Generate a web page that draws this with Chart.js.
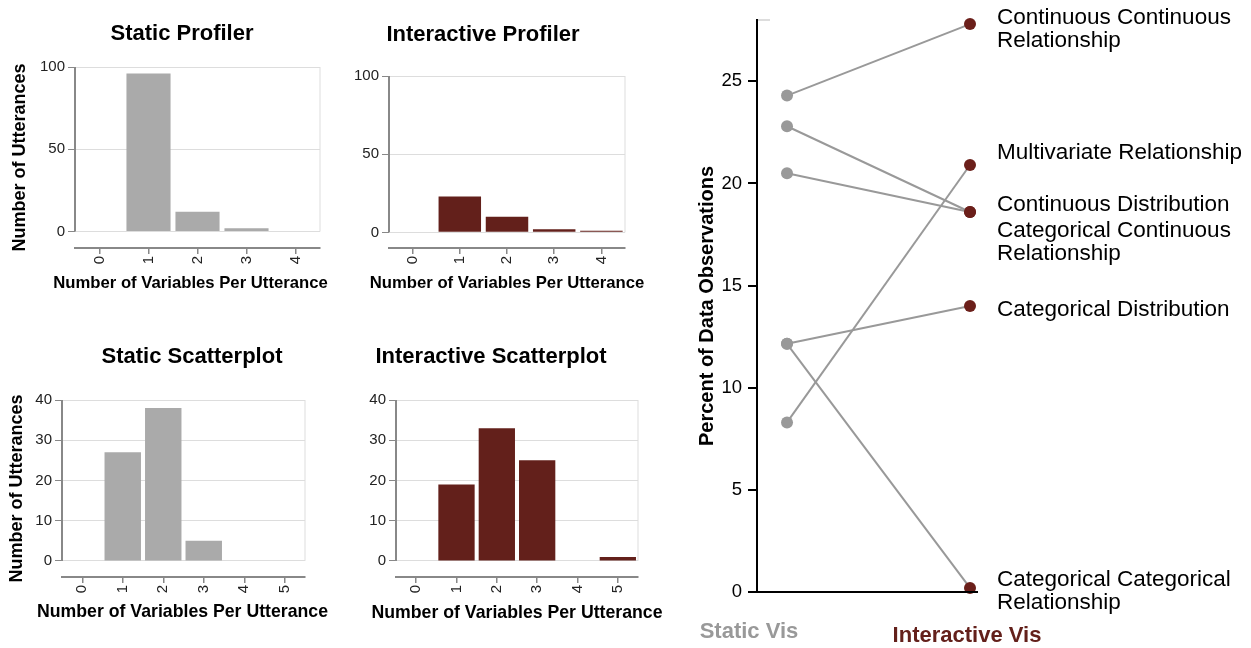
<!DOCTYPE html>
<html>
<head>
<meta charset="utf-8">
<script src="https://cdn.jsdelivr.net/npm/chart.js@4.4.1/dist/chart.umd.min.js"></script>
<style>
  html, body { margin: 0; padding: 0; background: #fff; }
  body { width: 1251px; height: 648px; position: relative; overflow: hidden; }
  .box { position: absolute; }
</style>
</head>
<body>
<div class="box" style="left:0;top:0"><canvas id="staticProfiler" width="335" height="300"></canvas></div>
<div class="box" style="left:335px;top:0"><canvas id="interactiveProfiler" width="320" height="300"></canvas></div>
<div class="box" style="left:0;top:320px"><canvas id="staticScatter" width="340" height="310"></canvas></div>
<div class="box" style="left:340px;top:320px"><canvas id="interactiveScatter" width="330" height="310"></canvas></div>
<div class="box" style="left:690px;top:0"><canvas id="slope" width="561" height="648"></canvas></div>
<script>
// bins (number of variables per utterance)
const profilerBins = ['0', '1', '2', '3', '4'];
const scatterBins = ['0', '1', '2', '3', '4', '5'];

// number of utterances per bin
const staticProfiler = [0, 96, 12, 2, 0];
const interactiveProfiler = [0, 23, 10, 2, 1];
const staticScatter = [0, 27, 38, 5, 0, 0];
const interactiveScatter = [0, 19, 33, 25, 0, 1];

const profilerTicks = [0, 50, 100];
const scatterTicks = [0, 10, 20, 30, 40];

// slope chart: percent of data observations
const slopeCategories = [
    'Continuous Continuous\nRelationship',
    'Multivariate Relationship',
    'Continuous Distribution',
    'Categorical Continuous\nRelationship',
    'Categorical Distribution',
    'Categorical Categorical\nRelationship'
];
const staticPct = [24.3, 8.3, 22.8, 20.5, 12.15, 12.15];
const interactivePct = [27.8, 20.9, 18.6, 18.6, 14.0, 0.2];
const slopeTicks = [0, 5, 10, 15, 20, 25];
const slopeGroups = ['Static Vis', 'Interactive Vis'];

const FONT = "'Liberation Sans', Arial, Helvetica, sans-serif";
const GRAY = '#aaaaaa';
const RED = '#63201b';

Chart.defaults.font.family = FONT;
Chart.defaults.color = '#222';

// left axis line (only from top tick to 0), light right frame, panel title, x title
const framePlugin = {
    id: 'frame',
    beforeDatasetsDraw(chart, args, opts) {
        const { ctx, chartArea: a, scales: { y } } = chart;
        const top = y.getPixelForValue(y.max);
        const zero = y.getPixelForValue(0);
        ctx.save();
        ctx.strokeStyle = '#dddddd';
        ctx.lineWidth = 1;
        ctx.beginPath();
        ctx.moveTo(a.right, top);
        ctx.lineTo(a.right, zero);
        ctx.stroke();
        ctx.strokeStyle = '#888';
        ctx.lineWidth = 2;
        ctx.beginPath();
        ctx.moveTo(a.left, top);
        ctx.lineTo(a.left, zero);
        ctx.stroke();
        ctx.fillStyle = '#000';
        ctx.textAlign = 'center';
        ctx.textBaseline = 'middle';
        ctx.font = 'bold 22px ' + FONT;
        ctx.fillText(opts.text, opts.x, opts.y);
        ctx.font = 'bold ' + opts.xTitleSize + 'px ' + FONT;
        ctx.fillText(opts.xTitle, (a.left + a.right) / 2 + opts.xTitleDx, opts.xTitleY);
        ctx.restore();
    }
};

function barChart(id, title, bins, values, color, ticks, yTitle, L) {
    const max = ticks[ticks.length - 1];
    new Chart(document.getElementById(id), {
        type: 'bar',
        data: {
            labels: bins,
            datasets: [{
                data: values,
                backgroundColor: color,
                borderWidth: 0,
                barPercentage: 0.9,
                categoryPercentage: 1
            }]
        },
        plugins: [framePlugin],
        options: {
            responsive: false,
            animation: false,
            layout: { padding: { left: 0, right: L.padRight, top: L.top, bottom: 0 } },
            plugins: {
                legend: { display: false },
                tooltip: { enabled: false },
                frame: {
                    text: title, x: L.titleX, y: L.titleY,
                    xTitle: 'Number of Variables Per Utterance',
                    xTitleY: L.xTitleY, xTitleDx: L.xTitleDx, xTitleSize: L.xTitleSize
                }
            },
            scales: {
                x: {
                    grid: { drawOnChartArea: false, offset: false, tickLength: 6, tickColor: '#888', lineWidth: 1.5 },
                    border: { display: true, color: '#888', width: 2 },
                    ticks: { minRotation: 90, maxRotation: 90, autoSkip: false, padding: 2, color: '#222', font: { size: 15 } },
                    afterFit: s => { s.height = L.xHeight; }
                },
                y: {
                    min: -max * 0.1,
                    max: max,
                    afterBuildTicks: s => { s.ticks = ticks.map(v => ({ value: v })); },
                    grid: { color: '#dddddd', lineWidth: 1, tickLength: 7, tickColor: '#888' },
                    border: { display: false },
                    ticks: { padding: 3, color: '#222', font: { size: 15 } },
                    title: {
                        display: !!yTitle,
                        text: yTitle || '',
                        color: '#000',
                        font: { size: 18, weight: 'bold' },
                        padding: { top: L.yTitlePad, bottom: 0 }
                    },
                    afterFit: s => { s.width = L.yWidth; }
                }
            }
        }
    });
}

barChart('staticProfiler', 'Static Profiler', profilerBins, staticProfiler, GRAY, profilerTicks,
    'Number of Utterances', { padRight: 15, top: 67, titleX: 182, titleY: 34, xHeight: 52, yWidth: 75,
        xTitleY: 283, xTitleDx: -7, xTitleSize: 16.7, yTitlePad: 9.2 });
barChart('interactiveProfiler', 'Interactive Profiler', profilerBins, interactiveProfiler, RED, profilerTicks,
    null, { padRight: 30, top: 76, titleX: 148, titleY: 35, xHeight: 52, yWidth: 54,
        xTitleY: 283, xTitleDx: 0, xTitleSize: 16.7, yTitlePad: 0 });
barChart('staticScatter', 'Static Scatterplot', scatterBins, staticScatter, GRAY, scatterTicks,
    'Number of Utterances', { padRight: 35, top: 80, titleX: 192, titleY: 37, xHeight: 53, yWidth: 62,
        xTitleY: 292, xTitleDx: -1, xTitleSize: 17.7, yTitlePad: 6.2 });
barChart('interactiveScatter', 'Interactive Scatterplot', scatterBins, interactiveScatter, RED, scatterTicks,
    null, { padRight: 32, top: 80, titleX: 151, titleY: 37, xHeight: 53, yWidth: 56,
        xTitleY: 293, xTitleDx: 0, xTitleSize: 17.7, yTitlePad: 0 });

// slope chart labels, axis stubs and group names
const slopeLabels = {
    id: 'slopeLabels',
    afterDraw(chart) {
        const { ctx, chartArea: a, scales: { x, y } } = chart;
        const nudge = [-6, -12, -7, 19, 4, -8];
        const lineH = 23;
        ctx.save();
        // bottom axis line
        ctx.strokeStyle = '#000';
        ctx.lineWidth = 2;
        ctx.beginPath();
        ctx.moveTo(a.left - 9, y.getPixelForValue(0));
        ctx.lineTo(x.getPixelForValue(1) + 8, y.getPixelForValue(0));
        ctx.stroke();
        // light stub at the top of the axis
        ctx.strokeStyle = '#dddddd';
        ctx.beginPath();
        ctx.moveTo(a.left + 1, a.top);
        ctx.lineTo(a.left + 13, a.top);
        ctx.stroke();
        // category labels
        ctx.fillStyle = '#000';
        ctx.font = '22.5px ' + FONT;
        ctx.textAlign = 'left';
        ctx.textBaseline = 'middle';
        chart.data.datasets.forEach((ds, i) => {
            const pt = chart.getDatasetMeta(i).data[1];
            slopeCategories[i].split('\n').forEach((line, j) => {
                ctx.fillText(line, pt.x + 27, pt.y + nudge[i] + j * lineH);
            });
        });
        // group names
        ctx.font = 'bold 22px ' + FONT;
        ctx.textAlign = 'center';
        ctx.fillStyle = '#999';
        ctx.fillText(slopeGroups[0], x.getPixelForValue(0) - 38, y.getPixelForValue(0) + 40);
        ctx.fillStyle = RED;
        ctx.fillText(slopeGroups[1], x.getPixelForValue(1) - 3, y.getPixelForValue(0) + 44);
        ctx.restore();
    }
};

new Chart(document.getElementById('slope'), {
    type: 'line',
    data: {
        datasets: slopeCategories.map((c, i) => ({
            label: c,
            data: [{ x: 0, y: staticPct[i] }, { x: 1, y: interactivePct[i] }],
            borderColor: '#999',
            borderWidth: 2,
            pointRadius: 6,
            pointBorderWidth: 0,
            pointBackgroundColor: ['#999', '#6b1f1a'],
            clip: false
        }))
    },
    plugins: [slopeLabels],
    options: {
        responsive: false,
        animation: false,
        layout: { padding: { left: 0, right: 10, top: 20, bottom: 56 } },
        plugins: { legend: { display: false }, tooltip: { enabled: false } },
        scales: {
            x: { type: 'linear', min: -0.164, max: 2.481, display: false },
            y: {
                min: 0,
                max: 28,
                afterBuildTicks: s => { s.ticks = slopeTicks.map(v => ({ value: v })); },
                grid: { drawOnChartArea: false, tickLength: 9, tickColor: '#000', lineWidth: 2 },
                border: { display: true, color: '#000', width: 2 },
                ticks: { padding: 6, color: '#000', font: { size: 18.5 } },
                title: {
                    display: true,
                    text: 'Percent of Data Observations',
                    color: '#000',
                    font: { size: 20, weight: 'bold' },
                    padding: { top: 5, bottom: 0 }
                },
                afterFit: s => { s.width = 67; }
            }
        }
    }
});
</script>
</body>
</html>
